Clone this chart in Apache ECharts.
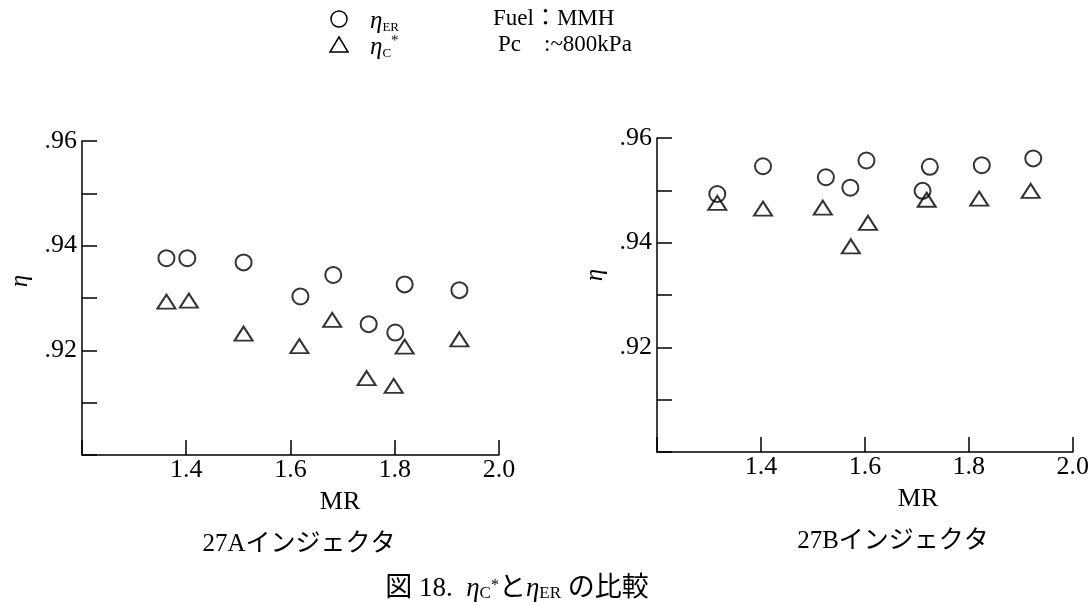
<!DOCTYPE html>
<html><head><meta charset="utf-8">
<script src="https://cdn.jsdelivr.net/npm/echarts@6/dist/echarts.min.js"></script>
<style>html,body{margin:0;padding:0;background:#fff}#c{width:1092px;height:606px}</style>
</head><body><div id="c"></div>
<script>
// ---- data ----
const xTickLabels = ['1.4', '1.6', '1.8', '2.0'];
const yTickLabels = ['.92', '.94', '.96'];

const leftMR_ER  = [1.362, 1.402, 1.510, 1.619, 1.682, 1.750, 1.801, 1.819, 1.924];
const leftEta_ER = [0.9376, 0.9376, 0.9368, 0.9303, 0.9344, 0.9250, 0.9234, 0.9326, 0.9315];
const leftMR_C   = [1.362, 1.405, 1.510, 1.617, 1.680, 1.746, 1.798, 1.819, 1.924];
const leftEta_C  = [0.9293, 0.9295, 0.9232, 0.9208, 0.9258, 0.9147, 0.9132, 0.9207, 0.9221];

const rightMR_ER  = [1.316, 1.404, 1.525, 1.572, 1.603, 1.711, 1.725, 1.825, 1.924];
const rightEta_ER = [0.9493, 0.9546, 0.9525, 0.9505, 0.9557, 0.9499, 0.9545, 0.9548, 0.9561];
const rightMR_C   = [1.316, 1.404, 1.519, 1.573, 1.606, 1.719, 1.820, 1.919];
const rightEta_C  = [0.9476, 0.9465, 0.9467, 0.9393, 0.9438, 0.9482, 0.9484, 0.9499];

const panelTitles = ['27Aインジェクタ', '27Bインジェクタ'];
const xName = 'MR';
const fuelText = 'Fuel：MMH';
const pcText = 'Pc\u3000:~800kPa';

// ---- helpers ----
const zip = (a, b) => a.map((v, i) => [v, b[i]]);
const serif = '"Liberation Serif", "DejaVu Serif", serif';
const jp = '"Liberation Serif", "Noto Sans CJK JP", sans-serif';

function xAxisCfg(gi) {
  return {
    type: 'value', gridIndex: gi, min: 1.2, max: 2.0, interval: 0.2,
    axisLine: { show: true, lineStyle: { color: '#000', width: 1.5 } },
    axisTick: { show: true, inside: true, length: 15, lineStyle: { color: '#000', width: 1.5 } },
    splitLine: { show: false },
    axisLabel: {
      margin: 2, color: '#000', fontFamily: serif, fontSize: 26,
      formatter: v => { const s = v.toFixed(1); return xTickLabels.includes(s) ? s : ''; }
    }
  };
}
function yAxisCfg(gi) {
  return {
    type: 'value', gridIndex: gi, min: 0.90, max: 0.96, interval: 0.01,
    axisLine: { show: true, lineStyle: { color: '#000', width: 1.5 } },
    axisTick: { show: true, inside: true, length: 15, lineStyle: { color: '#000', width: 1.5 } },
    splitLine: { show: false },
    axisLabel: {
      margin: 5, color: '#000', fontFamily: serif, fontSize: 26,
      formatter: v => { const s = '.' + Math.round(v * 100); return yTickLabels.includes(s) ? s : ''; }
    }
  };
}
const markStyle = { color: 'rgba(255,255,255,0)', borderColor: '#000', borderWidth: 2 };
function sER(gi, x, y) {
  return { type: 'scatter', xAxisIndex: gi, yAxisIndex: gi, data: zip(x, y),
    symbol: 'circle', symbolSize: 16, itemStyle: markStyle, silent: true };
}
function sC(gi, x, y) {
  return { type: 'scatter', xAxisIndex: gi, yAxisIndex: gi, data: zip(x, y),
    symbol: 'triangle', symbolSize: [18, 14], itemStyle: markStyle, silent: true };
}

const etaRich = {
  e: { fontFamily: serif, fontStyle: 'italic', fontSize: 25, fill: '#000', lineHeight: 26, verticalAlign: 'bottom' },
  s: { fontFamily: serif, fontSize: 13, fill: '#000', lineHeight: 20, verticalAlign: 'bottom' },
  a: { fontFamily: serif, fontSize: 15, fill: '#000', lineHeight: 26, verticalAlign: 'top' }
};

function txt(x, y, text, size, align) {
  return { type: 'text', x, y,
    style: { text, fontFamily: jp, fontSize: size, fill: '#000', align: align || 'center', verticalAlign: 'middle' } };
}

const chart = echarts.init(document.getElementById('c'), null, { renderer: 'canvas' });
chart.setOption({
  backgroundColor: '#fff',
  animation: false,
  grid: [
    { left: 82, top: 141, width: 417, height: 314 },
    { left: 657, top: 138, width: 419, height: 314 }
  ],
  xAxis: [xAxisCfg(0), xAxisCfg(1)],
  yAxis: [yAxisCfg(0), yAxisCfg(1)],
  series: [
    sER(0, leftMR_ER, leftEta_ER), sC(0, leftMR_C, leftEta_C),
    sER(1, rightMR_ER, rightEta_ER), sC(1, rightMR_C, rightEta_C)
  ],
  graphic: [
    // legend
    { type: 'circle', shape: { cx: 339, cy: 19, r: 8 }, style: { fill: 'none', stroke: '#000', lineWidth: 1.5 } },
    { type: 'polygon', shape: { points: [[339, 37], [348, 52], [330, 52]] }, style: { fill: 'none', stroke: '#000', lineWidth: 1.5 } },
    { type: 'text', x: 370, y: 8, style: { rich: etaRich, text: '{e|η}{s|ER}' } },
    { type: 'text', x: 370, y: 34, style: { rich: etaRich, text: '{e|η}{s|C}{a|*}' } },
    txt(493, 19, fuelText, 23, 'left'),
    txt(498, 45, pcText, 23, 'left'),
    // y axis names
    { type: 'text', x: 20, y: 281, rotation: Math.PI / 2,
      style: { text: 'η', fontFamily: serif, fontStyle: 'italic', fontSize: 25, fill: '#000', align: 'center', verticalAlign: 'middle' } },
    { type: 'text', x: 595, y: 275, rotation: Math.PI / 2,
      style: { text: 'η', fontFamily: serif, fontStyle: 'italic', fontSize: 25, fill: '#000', align: 'center', verticalAlign: 'middle' } },
    // x axis names
    txt(340, 502, xName, 26),
    txt(918, 499, xName, 26),
    // panel titles
    txt(299, 544, panelTitles[0], 25),
    txt(893, 541, panelTitles[1], 25),
    // caption
    { type: 'text', x: 517, y: 586,
      style: { align: 'center', verticalAlign: 'middle',
        rich: {
          a: { fontFamily: jp, fontSize: 27, fill: '#000', lineHeight: 32, verticalAlign: 'bottom' },
          e: { fontFamily: serif, fontStyle: 'italic', fontSize: 27, fill: '#000', lineHeight: 32, verticalAlign: 'bottom' },
          s: { fontFamily: serif, fontSize: 17, fill: '#000', lineHeight: 26, verticalAlign: 'bottom' },
          t: { fontFamily: serif, fontSize: 16, fill: '#000', lineHeight: 30, verticalAlign: 'middle' }
        },
        text: '{a|図 18.  }{e|η}{s|C}{t|*}{a|と}{e|η}{s|ER}{a| の比較}' } }
  ]
});
</script></body></html>
